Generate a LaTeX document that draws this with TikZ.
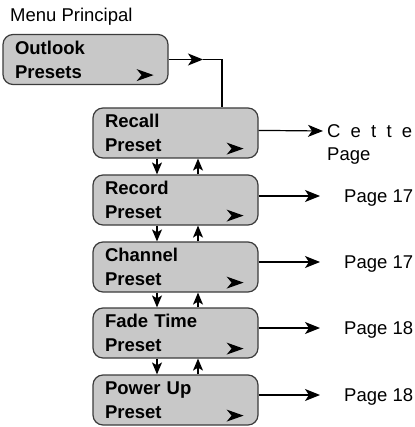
\documentclass[tikz,border=0pt]{standalone}
\usepackage{fontspec}
\setmainfont{Liberation Sans}
\usetikzlibrary{arrows.meta,calc}

\definecolor{boxfill}{RGB}{200,200,200}
\definecolor{boxline}{RGB}{60,60,60}

\begin{document}
\begin{tikzpicture}[x=1pt, y=-1pt,
    menubox/.style={draw=boxline, fill=boxfill, line width=1.2pt, rounded corners=10pt,
        minimum width=165pt, minimum height=50pt, text width=141pt,
        inner xsep=12pt, inner ysep=0pt, align=left,
        font=\fontsize{18.5}{24}\selectfont\bfseries},
    pagelbl/.style={inner sep=0pt, anchor=west, text height=13pt, text depth=0pt,
        font=\fontsize{18.5}{23}\selectfont},
    link/.style={line width=1.2pt, -{Stealth[length=15pt,width=12pt,inset=4pt]}},
    stepln/.style={line width=1.2pt, -{Stealth[length=12pt,width=10pt,inset=3pt]}}]
    \useasboundingbox (0,0) rectangle (414,427);

    \node[anchor=base west, inner sep=0pt, font=\fontsize{18.5}{22}\selectfont] (title) at (10,21.7) {Menu Principal};

    \node[menubox] (outlook) at (85.5,59.5) {Outlook\\Presets};
    \node[menubox] (recall) at (175.5,133) {Recall\\Preset};
    \node[menubox] (record) at (175.5,200) {Record\\Preset};
    \node[menubox] (channel) at (175.5,267) {Channel\\Preset};
    \node[menubox] (fade) at (175.5,333) {Fade Time\\Preset};
    \node[menubox] (power) at (175.5,400) {Power Up\\Preset};

    % small arrows inside the boxes
    \foreach \bx in {outlook,recall,record,channel,fade,power}
        \fill ($(\bx.south east)+(-15,-10)$) -- ++(-17,-6) -- ++(5,6) -- ++(-5,6) -- cycle;

    % from the main menu
    \coordinate (tipmark) at (203,59.5);
    \coordinate (elbow) at (222,59.5);
    \draw[link] (outlook.east) -- (tipmark);
    \draw[line width=1.2pt] (tipmark) -- (elbow) -- (elbow |- recall.north);

    % up and down between the presets
    \coordinate (downx) at (157,0);
    \coordinate (upx) at (198,0);
    \foreach \a/\bx in {recall/record, record/channel, channel/fade, fade/power} {
        \draw[stepln] (\a.south -| downx) -- (\bx.north -| downx);
        \draw[stepln] (\bx.north -| upx) -- (\a.south -| upx);
    }

    % pages
    \node[inner sep=0pt, anchor=north west, align=left, font=\fontsize{18.5}{23}\selectfont]
        (cette) at (327,124) {{\addfontfeature{LetterSpace=55}Cette}\\Page};
    \node[pagelbl] (p1) at (344,196) {Page 17};
    \node[pagelbl] (p2) at (344,262) {Page 17};
    \node[pagelbl] (p3) at (344,328) {Page 18};
    \node[pagelbl] (p4) at (344,395) {Page 18};

    \draw[link] ($(recall.north east)+(0,23)$) -- ($(cette.north west)+(-4,7)$);
    \foreach \bx/\lb in {record/p1, channel/p2, fade/p3, power/p4}
        \draw[link] (\bx.east |- \lb) -- ($(\lb.west)+(-24,0)$);
\end{tikzpicture}
\end{document}
